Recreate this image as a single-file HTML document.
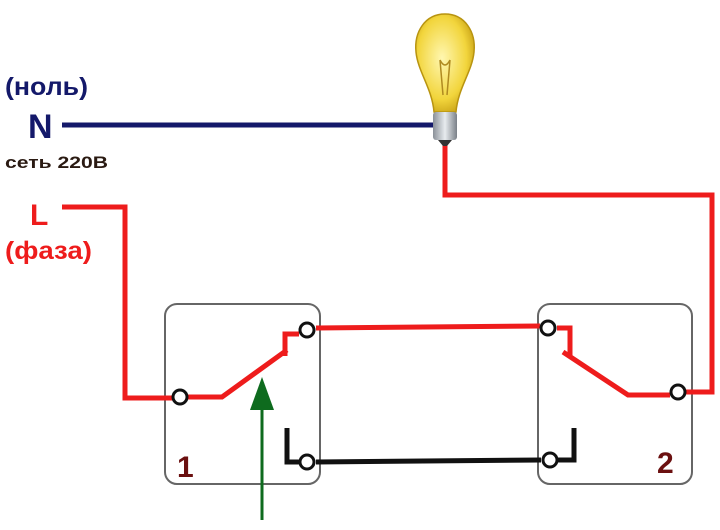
<!DOCTYPE html><html><head><style>body{margin:0;background:#fff;width:720px;height:525px;overflow:hidden}text{font-family:"Liberation Sans","DejaVu Sans",sans-serif;font-weight:bold}</style></head><body>
<svg width="720" height="525" viewBox="0 0 720 525">
<defs><radialGradient id="g" cx="0.45" cy="0.45" r="0.6"><stop offset="0" stop-color="#fff7b0"/><stop offset="0.7" stop-color="#f2d53c"/><stop offset="1" stop-color="#c9a316"/></radialGradient>
<linearGradient id="b" x1="0" x2="1"><stop offset="0" stop-color="#8a9098"/><stop offset="0.5" stop-color="#e8ecef"/><stop offset="1" stop-color="#7a8088"/></linearGradient></defs>
<rect x="165" y="304" width="155" height="180" rx="12" fill="none" stroke="#666" stroke-width="2"/>
<rect x="538" y="304" width="154" height="180" rx="12" fill="none" stroke="#666" stroke-width="2"/>
<path d="M62,125 H436" stroke="#14196a" stroke-width="5" fill="none"/>
<g stroke="#ee1c1c" stroke-width="5" fill="none" stroke-linejoin="miter">
<path d="M62,207 H125 V398 H172"/>
<path d="M188,397 H222 L287,350"/>
<path d="M285,356 V334 H299"/>
<path d="M316,328 L540,326"/>
<path d="M557,328 H570 V356"/>
<path d="M563,352 L628,395 H670"/>
<path d="M686,392 H712 V195 H445 V145"/>
</g>
<g stroke="#111" stroke-width="5" fill="none">
<path d="M287,428 V462 H300"/>
<path d="M316,462 L541,460"/>
<path d="M558,460 H574 V428"/>
</g>
<g fill="#fff" stroke="#111" stroke-width="3">
<circle cx="180" cy="397" r="7"/><circle cx="307" cy="330" r="7"/><circle cx="307" cy="462" r="7"/>
<circle cx="548" cy="328" r="7"/><circle cx="550" cy="460" r="7"/><circle cx="678" cy="392" r="7"/>
</g>
<path d="M262,520 V405" stroke="#0e6b1e" stroke-width="3"/>
<path d="M262,377 L274,410 H250 Z" fill="#0e6b1e"/>
<path d="M445,14 C425,14 414,32 416,52 C418,72 432,88 434,112 H456 C458,88 472,72 474,52 C476,32 465,14 445,14 Z" fill="url(#g)" stroke="#b89410" stroke-width="1.5"/>
<path d="M440,60 L443,95 M450,60 L447,95 M440,60 Q445,70 450,60" stroke="#b08a20" stroke-width="1.5" fill="none"/>
<rect x="433" y="112" width="24" height="28" rx="3" fill="url(#b)"/>
<path d="M438,140 H452 L447,146 H443 Z" fill="#333"/>
<text x="5" y="95" font-size="25" fill="#14196a" textLength="83" lengthAdjust="spacingAndGlyphs">(ноль)</text>
<text x="28" y="138" font-size="34" fill="#14196a">N</text>
<text x="5" y="168" font-size="17" fill="#2a1a12" textLength="103" lengthAdjust="spacingAndGlyphs">сеть 220В</text>
<text x="30" y="225" font-size="30" fill="#ee1c1c">L</text>
<text x="5" y="259" font-size="25" fill="#ee1c1c" textLength="87" lengthAdjust="spacingAndGlyphs">(фаза)</text>
<text x="177" y="477" font-size="30" fill="#6b1010">1</text>
<text x="657" y="473" font-size="30" fill="#6b1010">2</text>
</svg></body></html>
